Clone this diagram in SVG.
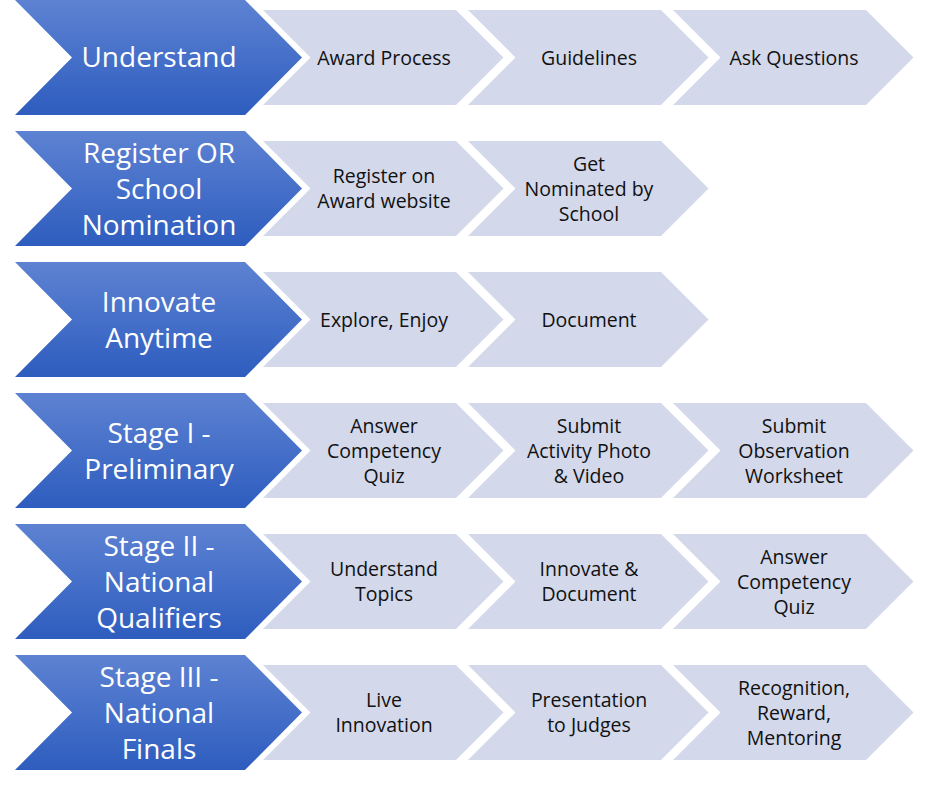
<svg xmlns="http://www.w3.org/2000/svg" xmlns:xlink="http://www.w3.org/1999/xlink" width="930" height="790" viewBox="0 0 930 790">
<defs>
<linearGradient id="bg" x1="0" y1="0" x2="0" y2="1">
<stop offset="0" stop-color="#5D82D2"/>
<stop offset="1" stop-color="#2E5DBF"/>
</linearGradient>
<polygon id="big" points="15,0 245,0 302,57.5 245,115 15,115 72,57.5"/>
<polygon id="small" points="0,10 193,10 240.5,57.5 193,105 0,105 47.5,57.5"/>
</defs>
<style>
.b{fill:url(#bg)}
.s{fill:#D3D8EB}
.bt{font-family:"Open Sans","Liberation Sans",sans-serif;font-size:28px;fill:#FFFFFF;text-anchor:middle}
.st{font-family:"Open Sans","Liberation Sans",sans-serif;font-size:19.5px;fill:#111111;text-anchor:middle}
</style>
<rect width="930" height="790" fill="#FFFFFF"/>

<!-- Row 1 -->
<g id="row1" transform="translate(0,0)">
<g id="understand"><use xlink:href="#big" class="b"/><text class="bt" x="159" y="67">Understand</text></g>
<g id="award-process" transform="translate(263,0)"><use xlink:href="#small" class="s"/><text class="st" x="121" y="64.5">Award Process</text></g>
<g id="guidelines" transform="translate(468,0)"><use xlink:href="#small" class="s"/><text class="st" x="121" y="64.5">Guidelines</text></g>
<g id="ask-questions" transform="translate(673,0)"><use xlink:href="#small" class="s"/><text class="st" x="121" y="64.5">Ask Questions</text></g>
</g>

<!-- Row 2 -->
<g id="row2" transform="translate(0,131)">
<g id="register"><use xlink:href="#big" class="b"/><text class="bt" x="159" y="31.5">Register OR</text><text class="bt" x="159" y="67.5">School</text><text class="bt" x="159" y="103.5">Nomination</text></g>
<g id="register-website" transform="translate(263,0)"><use xlink:href="#small" class="s"/><text class="st" x="121" y="52">Register on</text><text class="st" x="121" y="77">Award website</text></g>
<g id="nominated" transform="translate(468,0)"><use xlink:href="#small" class="s"/><text class="st" x="121" y="39.5">Get</text><text class="st" x="121" y="64.5">Nominated by</text><text class="st" x="121" y="89.5">School</text></g>
</g>

<!-- Row 3 -->
<g id="row3" transform="translate(0,262)">
<g id="innovate"><use xlink:href="#big" class="b"/><text class="bt" x="159" y="49.5">Innovate</text><text class="bt" x="159" y="85.5">Anytime</text></g>
<g id="explore" transform="translate(263,0)"><use xlink:href="#small" class="s"/><text class="st" x="121" y="64.5">Explore, Enjoy</text></g>
<g id="document" transform="translate(468,0)"><use xlink:href="#small" class="s"/><text class="st" x="121" y="64.5">Document</text></g>
</g>

<!-- Row 4 -->
<g id="row4" transform="translate(0,393)">
<g id="stage1"><use xlink:href="#big" class="b"/><text class="bt" x="159" y="49.5">Stage I -</text><text class="bt" x="159" y="85.5">Preliminary</text></g>
<g id="quiz1" transform="translate(263,0)"><use xlink:href="#small" class="s"/><text class="st" x="121" y="39.5">Answer</text><text class="st" x="121" y="64.5">Competency</text><text class="st" x="121" y="89.5">Quiz</text></g>
<g id="photo-video" transform="translate(468,0)"><use xlink:href="#small" class="s"/><text class="st" x="121" y="39.5">Submit</text><text class="st" x="121" y="64.5">Activity Photo</text><text class="st" x="121" y="89.5">&amp; Video</text></g>
<g id="worksheet" transform="translate(673,0)"><use xlink:href="#small" class="s"/><text class="st" x="121" y="39.5">Submit</text><text class="st" x="121" y="64.5">Observation</text><text class="st" x="121" y="89.5">Worksheet</text></g>
</g>

<!-- Row 5 -->
<g id="row5" transform="translate(0,524)">
<g id="stage2"><use xlink:href="#big" class="b"/><text class="bt" x="159" y="31.5">Stage II -</text><text class="bt" x="159" y="67.5">National</text><text class="bt" x="159" y="103.5">Qualifiers</text></g>
<g id="topics" transform="translate(263,0)"><use xlink:href="#small" class="s"/><text class="st" x="121" y="52">Understand</text><text class="st" x="121" y="77">Topics</text></g>
<g id="innovate-document" transform="translate(468,0)"><use xlink:href="#small" class="s"/><text class="st" x="121" y="52">Innovate &amp;</text><text class="st" x="121" y="77">Document</text></g>
<g id="quiz2" transform="translate(673,0)"><use xlink:href="#small" class="s"/><text class="st" x="121" y="39.5">Answer</text><text class="st" x="121" y="64.5">Competency</text><text class="st" x="121" y="89.5">Quiz</text></g>
</g>

<!-- Row 6 -->
<g id="row6" transform="translate(0,655)">
<g id="stage3"><use xlink:href="#big" class="b"/><text class="bt" x="159" y="31.5">Stage III -</text><text class="bt" x="159" y="67.5">National</text><text class="bt" x="159" y="103.5">Finals</text></g>
<g id="live-innovation" transform="translate(263,0)"><use xlink:href="#small" class="s"/><text class="st" x="121" y="52">Live</text><text class="st" x="121" y="77">Innovation</text></g>
<g id="presentation" transform="translate(468,0)"><use xlink:href="#small" class="s"/><text class="st" x="121" y="52">Presentation</text><text class="st" x="121" y="77">to Judges</text></g>
<g id="recognition" transform="translate(673,0)"><use xlink:href="#small" class="s"/><text class="st" x="121" y="39.5">Recognition,</text><text class="st" x="121" y="64.5">Reward,</text><text class="st" x="121" y="89.5">Mentoring</text></g>
</g>
</svg>
